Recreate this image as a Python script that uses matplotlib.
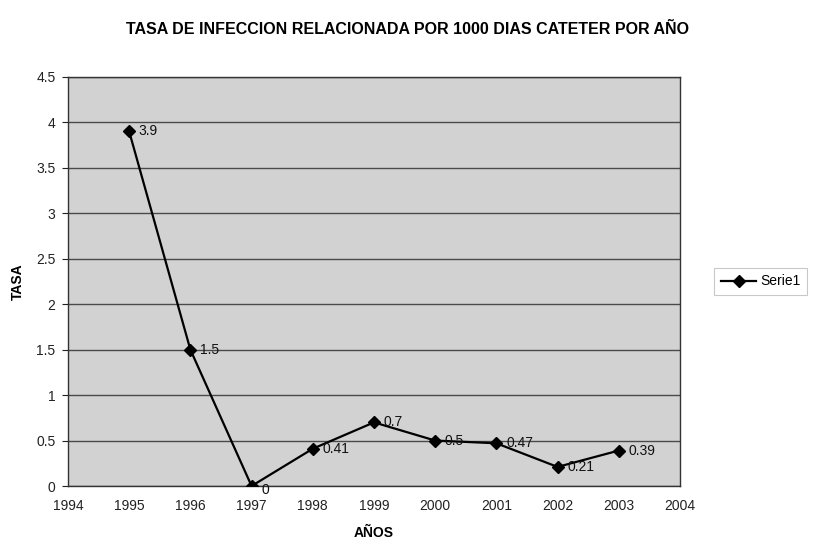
import matplotlib
matplotlib.use("Agg")
import matplotlib.pyplot as plt

plt.rcParams["font.family"] = ["Liberation Sans", "DejaVu Sans"]

years = [1995, 1996, 1997, 1998, 1999, 2000, 2001, 2002, 2003]
tasa = [3.9, 1.5, 0, 0.41, 0.7, 0.5, 0.47, 0.21, 0.39]
labels = ["3.9", "1.5", "0", "0.41", "0.7", "0.5", "0.47", "0.21", "0.39"]
yticks = [0, 0.5, 1, 1.5, 2, 2.5, 3, 3.5, 4, 4.5]
xticks = list(range(1994, 2005))

fig = plt.figure(figsize=(8.16, 5.44), dpi=100)
ax = fig.add_axes([0.0833, 0.1066, 0.75, 0.752])
ax.set_facecolor("#d2d2d2")

ax.plot(years, tasa, color="black", lw=1.6, marker="D", markersize=6,
        markerfacecolor="black", label="Serie1", zorder=3)

for x, y, t in zip(years, tasa, labels):
    dy = -3 if y == 0 else 0
    ax.annotate(t, (x, y), xytext=(7, dy), textcoords="offset points",
                va="center", ha="left", fontsize=10, color="#111111", zorder=4)

ax.set_xlim(1994, 2004)
ax.set_ylim(0, 4.5)
ax.set_xticks(xticks)
ax.set_xticklabels([str(v) for v in xticks])
ax.set_yticks(yticks)
ax.set_yticklabels([f"{v:g}" for v in yticks])
ax.tick_params(axis="both", labelsize=10, length=4, width=0.8, colors="#222222")
ax.tick_params(axis="x", pad=9, length=0)
ax.tick_params(axis="y", pad=5)

ax.yaxis.grid(True, color="#4a4a4a", lw=1.0)
ax.set_axisbelow(True)
for s in ax.spines.values():
    s.set_color("#333333")
    s.set_linewidth(1.0)

ax.set_xlabel("AÑOS", fontsize=10, fontweight="bold", labelpad=10)
ax.set_ylabel("TASA", fontsize=10, fontweight="bold", labelpad=8)
fig.suptitle("TASA DE INFECCION RELACIONADA POR 1000 DIAS CATETER POR AÑO",
             fontsize=11.5, fontweight="bold", x=0.5, y=0.96)

leg = ax.legend(loc="center left", bbox_to_anchor=(1.045, 0.5), fontsize=10,
                frameon=True, fancybox=False, handlelength=2.5,
                borderpad=0.5, handletextpad=0.3)
leg.get_frame().set_edgecolor("#bbbbbb")
leg.get_frame().set_linewidth(0.8)

fig.savefig("out.png", dpi=100)
